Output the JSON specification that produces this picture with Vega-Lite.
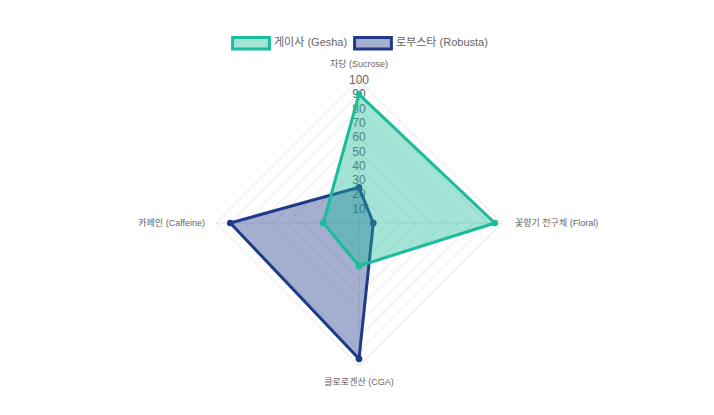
{
  "$schema": "https://vega.github.io/schema/vega-lite/v6.json",
  "autosize": "none",
  "width": 286,
  "height": 286,
  "padding": {"left": 216, "top": 80, "right": 212, "bottom": 49},
  "background": "white",
  "config": {
    "view": {"stroke": null},
    "font": "Helvetica Neue, Helvetica, Arial, Noto Sans CJK KR, sans-serif",
    "legend": {"labelColor": "#666", "labelFontSize": 11, "labelFont": "Helvetica Neue, Helvetica, Arial, Noto Sans CJK KR, sans-serif"}
  },
  "datasets": {
    "levels": [
      {"level": 10}, {"level": 20}, {"level": 30}, {"level": 40}, {"level": 50},
      {"level": 60}, {"level": 70}, {"level": 80}, {"level": 90}, {"level": 100}
    ],
    "attrs": [
      {"attr": "자당 (Sucrose)", "k": 0},
      {"attr": "꽃향기 전구체 (Floral)", "k": 1},
      {"attr": "클로로겐산 (CGA)", "k": 2},
      {"attr": "카페인 (Caffeine)", "k": 3}
    ],
    "scores": [
      {"cultivar": "게이사 (Gesha)", "attr": "자당 (Sucrose)", "k": 0, "value": 90},
      {"cultivar": "게이사 (Gesha)", "attr": "꽃향기 전구체 (Floral)", "k": 1, "value": 95},
      {"cultivar": "게이사 (Gesha)", "attr": "클로로겐산 (CGA)", "k": 2, "value": 30},
      {"cultivar": "게이사 (Gesha)", "attr": "카페인 (Caffeine)", "k": 3, "value": 25},
      {"cultivar": "로부스타 (Robusta)", "attr": "자당 (Sucrose)", "k": 0, "value": 25},
      {"cultivar": "로부스타 (Robusta)", "attr": "꽃향기 전구체 (Floral)", "k": 1, "value": 10},
      {"cultivar": "로부스타 (Robusta)", "attr": "클로로겐산 (CGA)", "k": 2, "value": 95},
      {"cultivar": "로부스타 (Robusta)", "attr": "카페인 (Caffeine)", "k": 3, "value": 90}
    ]
  },
  "layer": [
    {
      "data": {"name": "levels"},
      "transform": [
        {"calculate": "-datum.level", "as": "neg"},
        {"calculate": "0", "as": "zero"}
      ],
      "layer": [
        {
          "mark": {"type": "rule", "color": "#e6e6e6", "strokeWidth": 1},
          "encoding": {
            "x": {"field": "zero", "type": "quantitative", "scale": {"domain": [-100, 100], "nice": false}, "axis": null},
            "y": {"field": "level", "type": "quantitative", "scale": {"domain": [-100, 100], "nice": false}, "axis": null},
            "x2": {"field": "level"},
            "y2": {"field": "zero"}
          }
        },
        {
          "mark": {"type": "rule", "color": "#e6e6e6", "strokeWidth": 1},
          "encoding": {
            "x": {"field": "level", "type": "quantitative"},
            "y": {"field": "zero", "type": "quantitative"},
            "x2": {"field": "zero"},
            "y2": {"field": "neg"}
          }
        },
        {
          "mark": {"type": "rule", "color": "#e6e6e6", "strokeWidth": 1},
          "encoding": {
            "x": {"field": "zero", "type": "quantitative"},
            "y": {"field": "neg", "type": "quantitative"},
            "x2": {"field": "neg"},
            "y2": {"field": "zero"}
          }
        },
        {
          "mark": {"type": "rule", "color": "#e6e6e6", "strokeWidth": 1},
          "encoding": {
            "x": {"field": "neg", "type": "quantitative"},
            "y": {"field": "zero", "type": "quantitative"},
            "x2": {"field": "zero"},
            "y2": {"field": "level"}
          }
        },
        {
          "transform": [{"filter": "datum.level == 100"}],
          "mark": {"type": "rule", "color": "#e6e6e6", "strokeWidth": 1},
          "encoding": {
            "x": {"field": "zero", "type": "quantitative"},
            "y": {"field": "neg", "type": "quantitative"},
            "y2": {"field": "level"}
          }
        },
        {
          "transform": [{"filter": "datum.level == 100"}],
          "mark": {"type": "rule", "color": "#e6e6e6", "strokeWidth": 1},
          "encoding": {
            "x": {"field": "neg", "type": "quantitative"},
            "x2": {"field": "level"},
            "y": {"field": "zero", "type": "quantitative"}
          }
        },
        {
          "mark": {"type": "text", "fontSize": 12, "color": "#666", "baseline": "middle", "align": "center"},
          "encoding": {
            "x": {"field": "zero", "type": "quantitative"},
            "y": {"field": "level", "type": "quantitative"},
            "text": {"field": "level", "type": "quantitative"}
          }
        }
      ]
    },
    {
      "data": {"name": "attrs"},
      "transform": [
        {"calculate": "datum.k == 1 ? 100 : datum.k == 3 ? -100 : 0", "as": "px"},
        {"calculate": "datum.k == 0 ? 100 : datum.k == 2 ? -100 : 0", "as": "py"}
      ],
      "encoding": {
        "x": {"field": "px", "type": "quantitative"},
        "y": {"field": "py", "type": "quantitative"},
        "text": {"field": "attr", "type": "nominal"}
      },
      "layer": [
        {
          "transform": [{"filter": "datum.k == 0"}],
          "mark": {"type": "text", "fontSize": 9, "color": "#666", "align": "center", "baseline": "middle", "dy": -16}
        },
        {
          "transform": [{"filter": "datum.k == 1"}],
          "mark": {"type": "text", "fontSize": 9, "color": "#666", "align": "left", "baseline": "middle", "dx": 13}
        },
        {
          "transform": [{"filter": "datum.k == 2"}],
          "mark": {"type": "text", "fontSize": 9, "color": "#666", "align": "center", "baseline": "middle", "dy": 16}
        },
        {
          "transform": [{"filter": "datum.k == 3"}],
          "mark": {"type": "text", "fontSize": 9, "color": "#666", "align": "right", "baseline": "middle", "dx": -11}
        }
      ]
    },
    {
      "data": {"name": "scores"},
      "transform": [
        {"calculate": "datum.k == 1 ? datum.value : datum.k == 3 ? -datum.value : 0", "as": "px"},
        {"calculate": "datum.k == 0 ? datum.value : datum.k == 2 ? -datum.value : 0", "as": "py"}
      ],
      "encoding": {
        "x": {"field": "px", "type": "quantitative"},
        "y": {"field": "py", "type": "quantitative"},
        "order": {"field": "k", "type": "quantitative"}
      },
      "layer": [
        {
          "transform": [{"filter": "datum.cultivar == '로부스타 (Robusta)'"}],
          "mark": {"type": "line", "interpolate": "linear-closed", "strokeWidth": 3, "fill": "rgba(30,58,138,0.4)", "stroke": "#1e3a8a"}
        },
        {
          "transform": [{"filter": "datum.cultivar == '로부스타 (Robusta)'"}],
          "mark": {"type": "point", "filled": true, "size": 45, "opacity": 1, "color": "#1e3a8a"}
        },
        {
          "transform": [{"filter": "datum.cultivar == '게이사 (Gesha)'"}],
          "mark": {"type": "line", "interpolate": "linear-closed", "strokeWidth": 3, "fill": "rgba(26,188,156,0.4)", "stroke": "#1abc9c"}
        },
        {
          "transform": [{"filter": "datum.cultivar == '게이사 (Gesha)'"}],
          "mark": {"type": "point", "filled": true, "size": 45, "opacity": 1, "color": "#1abc9c"}
        },
        {
          "mark": {"type": "point", "opacity": 0, "strokeWidth": 3},
          "encoding": {
            "stroke": {
              "field": "cultivar", "type": "nominal", "title": null,
              "scale": {"domain": ["게이사 (Gesha)", "로부스타 (Robusta)"], "range": ["#1abc9c", "#1e3a8a"]},
              "legend": {
                "orient": "none", "direction": "horizontal", "legendX": 22, "legendY": -50,
                "symbolType": "M-1.6,-0.5H1.6V0.5H-1.6Z", "symbolSize": 529, "symbolStrokeWidth": 3,
                "symbolOpacity": 1, "labelOffset": 10, "columnPadding": 0
              }
            },
            "fill": {
              "field": "cultivar", "type": "nominal", "title": null,
              "scale": {"domain": ["게이사 (Gesha)", "로부스타 (Robusta)"], "range": ["rgba(26,188,156,0.4)", "rgba(30,58,138,0.4)"]},
              "legend": {
                "orient": "none", "direction": "horizontal", "legendX": 22, "legendY": -50,
                "symbolType": "M-1.6,-0.5H1.6V0.5H-1.6Z", "symbolSize": 529, "symbolStrokeWidth": 3,
                "symbolOpacity": 1, "labelOffset": 10, "columnPadding": 0
              }
            }
          }
        }
      ]
    }
  ]
}
